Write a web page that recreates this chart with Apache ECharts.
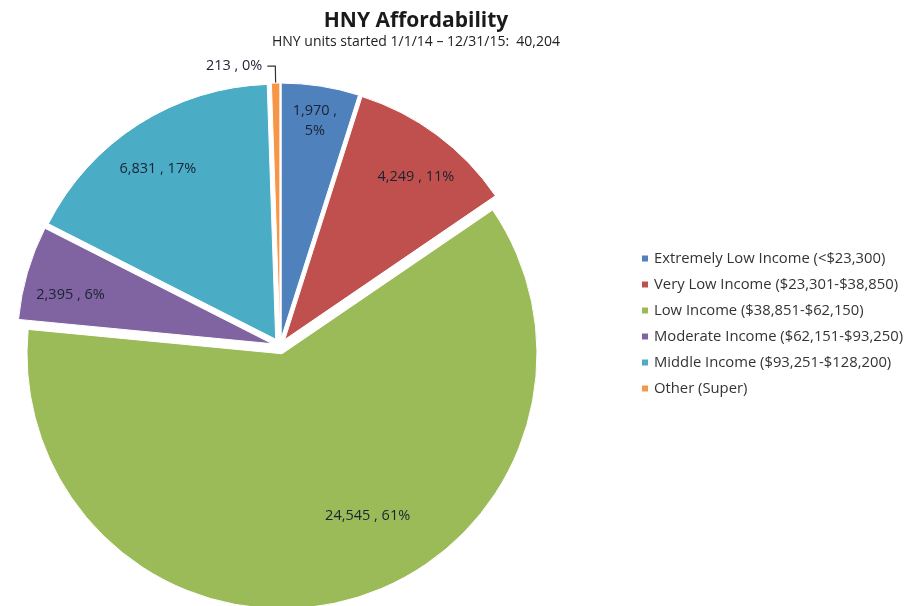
<!DOCTYPE html>
<html><head><meta charset="utf-8">
<script src="https://cdn.jsdelivr.net/npm/echarts@6/dist/echarts.min.js"></script>
<style>html,body{margin:0;padding:0;background:#fff}#c{width:919px;height:606px}</style>
</head><body><div id="c"></div>
<script>
const categories = [
  'Extremely Low Income (<$23,300)',
  'Very Low Income ($23,301-$38,850)',
  'Low Income ($38,851-$62,150)',
  'Moderate Income ($62,151-$93,250)',
  'Middle Income ($93,251-$128,200)',
  'Other (Super)'
];
const units = [1970, 4249, 24545, 2395, 6831, 213];
const percentLabels = [5, 11, 61, 6, 17, 0];
const colors = ['#4F81BD', '#C0504D', '#9BBB59', '#8064A2', '#4BACC6', '#F79646'];
const titleText = 'HNY Affordability';
const subtitleText = 'HNY units started 1/1/14 \u2013 12/31/15:  40,204';

const fmt = v => v.toLocaleString('en-US');
const R = 255, CX = 280, CY = 346, OFF = 8;
const FONT = 'Open Sans';
// small label nudges imitating the original's "best fit" placement
const labelNudge = { 1: [0, 13], 2: [31, -50], 3: [9, 12], 4: [0, 15] };

const mainData = categories.map((n, i) => ({
  name: n, value: units[i], selected: true,
  itemStyle: { color: colors[i] }
}));
const labelData = categories.map((n, i) => {
  const d = { name: n, value: units[i], selected: true };
  if (i === 5) {
    d.label = { position: 'outside', show: true };
    d.labelLine = { show: true, length: 17, length2: 8, lineStyle: { color: '#333', width: 1.2 } };
  }
  return d;
});

const chart = echarts.init(document.getElementById('c'), null, { renderer: 'canvas' });
chart.setOption({
  animation: false,
  color: colors,
  title: {
    text: titleText,
    subtext: subtitleText,
    left: 411, textAlign: 'center', top: 6, itemGap: 3,
    textStyle: { fontFamily: FONT, fontSize: 21, fontWeight: 'bold', color: '#1a1a1a' },
    subtextStyle: { fontFamily: FONT, fontSize: 14, color: '#222' }
  },
  legend: {
    orient: 'vertical', left: 635, top: 246,
    itemWidth: 8, itemHeight: 8, itemGap: 11, icon: 'rect',
    data: categories,
    textStyle: { fontFamily: FONT, fontSize: 14.8, lineHeight: 15, color: '#333' },
    selectedMode: false
  },
  series: [
    {
      type: 'pie', center: [CX, CY], radius: [0, R],
      startAngle: 90, clockwise: true,
      selectedMode: 'multiple', selectedOffset: OFF,
      silent: true,
      itemStyle: { borderColor: '#fff', borderWidth: 1 },
      select: { itemStyle: { borderColor: '#fff', borderWidth: 1 } },
      label: { show: false }, labelLine: { show: false },
      data: mainData
    },
    {
      type: 'pie', center: [CX, CY], radius: [178, R],
      startAngle: 90, clockwise: true,
      selectedMode: 'multiple', selectedOffset: OFF,
      silent: true, legendHoverLink: false,
      itemStyle: { color: 'rgba(0,0,0,0)', borderWidth: 0 },
      select: { itemStyle: { color: 'rgba(0,0,0,0)', borderWidth: 0 } },
      label: {
        show: true, position: 'inside',
        fontFamily: FONT, fontSize: 14.5, color: '#1b2233', lineHeight: 20,
        formatter: p => p.dataIndex === 0
          ? fmt(p.value) + ' ,\n' + percentLabels[p.dataIndex] + '%'
          : fmt(p.value) + ' , ' + percentLabels[p.dataIndex] + '%'
      },
      labelLayout: p => {
        const n = labelNudge[p.dataIndex];
        return n ? { dx: n[0], dy: n[1] } : {};
      },
      labelLine: { show: false },
      data: labelData
    }
  ]
});
</script></body></html>
